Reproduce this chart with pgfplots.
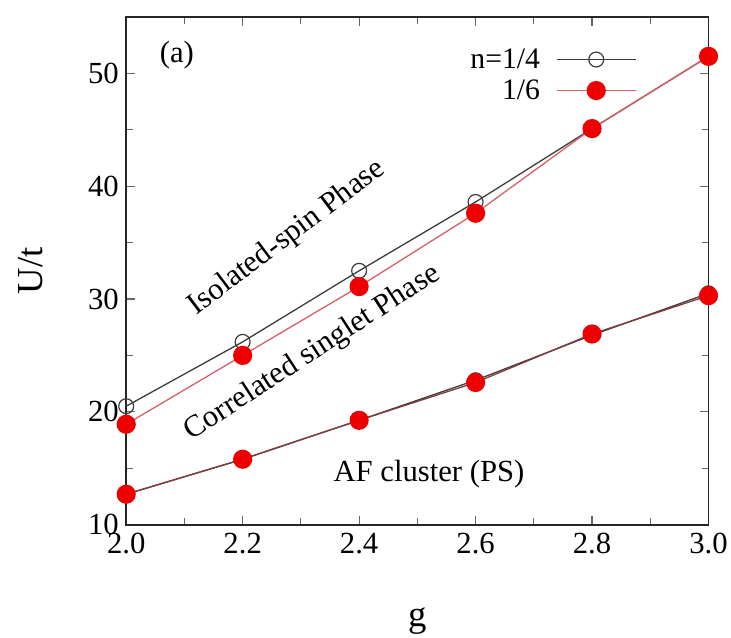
\documentclass[border=0pt]{standalone}
\usepackage{pgfplots}
\pgfplotsset{compat=1.18}
\usepackage{fontspec}
\setmainfont{Liberation Serif}
\newfontfamily\tnr{LiberationSerif}[Extension=.ttf, UprightFont=*-Regular]
\definecolor{myred}{RGB}{238,0,0}
\definecolor{myline}{RGB}{215,95,105}
\definecolor{mygray}{RGB}{60,60,60}
\begin{document}
\begin{tikzpicture}[font=\tnr]
\begin{axis}[
  scale only axis, width=586bp, height=511bp,
  xmin=2, xmax=3, ymin=10, ymax=55,
  xtick={2.0,2.2,2.4,2.6,2.8,3.0},
  xticklabels={2.0,2.2,2.4,2.6,2.8,3.0},
  ytick={10,20,30,40,50},
  yticklabels={10,20,30,40,50},
  minor x tick num=1, minor y tick num=1,
  tick align=inside,
  major tick length=9bp, minor tick length=7bp,
  axis line style={line width=1.8bp, black!85},
  every tick/.style={black!60, line width=1.2bp},
  tick label style={font=\tnr\fontsize{31}{31}\selectfont},
  xticklabel style={yshift=-5bp},
  yticklabel style={xshift=-4bp},
  xlabel={g}, ylabel={U/t},
  label style={font=\tnr\fontsize{37}{37}\selectfont},
  xlabel style={at={(axis description cs:0.5,-0.19)}, anchor=center},
  ylabel style={at={(axis description cs:-0.165,0.5)}, anchor=center, rotate=0},
  legend style={draw=none, fill=none, at={(axis description cs:0.882,0.945)}, anchor=north east,
    font=\tnr\fontsize{30}{30}\selectfont, row sep=6bp, column sep=14bp},
  legend cell align=right,
  legend plot pos=right,
  legend image code/.code={\draw[mark repeat=2,mark phase=2,#1] plot coordinates {(0bp,0bp) (40bp,0bp) (80bp,0bp)};},
]
\addplot[mygray, line width=1.3bp, mark=o, mark size=7.5bp, mark options={mygray, line width=1.2bp}]
  coordinates {(2.0,20.5) (2.2,26.2) (2.4,32.5) (2.6,38.6) (2.8,45.1) (3.0,51.5)};
\addlegendentry{n=1/4}
\addplot[myline, line width=1.3bp, mark=*, mark size=9bp, mark options={fill=myred, draw=myred}]
  coordinates {(2.0,18.9) (2.2,25.0) (2.4,31.1) (2.6,37.6) (2.8,45.1) (3.0,51.5)};
\addlegendentry{1/6}
\addplot[mygray, line width=1.3bp, mark=o, mark size=7.5bp, mark options={mygray, line width=1.2bp}, forget plot]
  coordinates {(2.0,12.7) (2.2,15.8) (2.4,19.25) (2.6,22.8) (2.8,26.8) (3.0,30.5)};
\addplot[myline!60!black, line width=1.3bp, mark=*, mark size=9bp, mark options={fill=myred, draw=myred}, forget plot]
  coordinates {(2.0,12.7) (2.2,15.8) (2.4,19.25) (2.6,22.6) (2.8,26.9) (3.0,30.3)};
\node[font=\tnr\fontsize{31}{31}\selectfont] at (axis cs:2.087,51.6) {(a)};
\node[rotate=37, font=\tnr\fontsize{31}{31}\selectfont] at (axis cs:2.276,35.4) {Isolated-spin Phase};
\node[rotate=33, font=\tnr\fontsize{31}{31}\selectfont] at (axis cs:2.32,25.2) {Correlated singlet Phase};
\node[font=\tnr\fontsize{31}{31}\selectfont] at (axis cs:2.52,14.5) {AF cluster (PS)};
\end{axis}
\path[use as bounding box] ([shift={(-127bp,-109bp)}]current axis.south west) rectangle ([shift={(18bp,17bp)}]current axis.north east);
\end{tikzpicture}
\end{document}
